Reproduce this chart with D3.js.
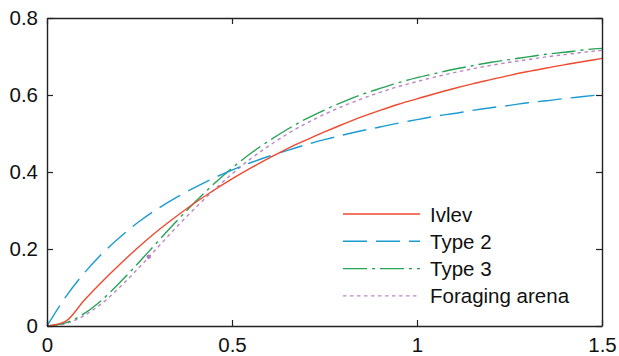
<!DOCTYPE html>
<html>
<head>
<meta charset="utf-8">
<script src="https://cdn.jsdelivr.net/npm/d3@7"></script>
<style>
  body { margin: 0; background: #fff; }
  text { font-family: "Liberation Sans", Arial, sans-serif; }
</style>
</head>
<body>
<div id="chart"></div>
<script>
// prey density (x) sampled every 0.05
const xValues = [0, 0.05, 0.1, 0.15, 0.2, 0.25, 0.3, 0.35, 0.4, 0.45, 0.5, 0.55, 0.6, 0.65, 0.7, 0.75,
  0.8, 0.85, 0.9, 0.95, 1.0, 1.05, 1.1, 1.15, 1.2, 1.25, 1.3, 1.35, 1.4, 1.45, 1.5];

const ivlev = [0, 0.012, 0.066, 0.116, 0.163, 0.207, 0.248, 0.285, 0.320, 0.352, 0.382, 0.410, 0.436, 0.461,
  0.483, 0.504, 0.524, 0.543, 0.560, 0.576, 0.590, 0.604, 0.617, 0.629, 0.640, 0.651, 0.661, 0.670, 0.679, 0.687, 0.695];
const type2 = [0, 0.075, 0.137, 0.189, 0.233, 0.272, 0.305, 0.334, 0.360, 0.384, 0.405, 0.424, 0.441, 0.456,
  0.471, 0.484, 0.496, 0.507, 0.517, 0.527, 0.536, 0.545, 0.552, 0.560, 0.567, 0.573, 0.580, 0.585, 0.591, 0.596, 0.601];
const type3 = [0, 0.008, 0.032, 0.069, 0.116, 0.167, 0.220, 0.272, 0.322, 0.368, 0.410, 0.448, 0.481, 0.511,
  0.538, 0.561, 0.582, 0.601, 0.617, 0.632, 0.645, 0.656, 0.667, 0.676, 0.685, 0.692, 0.699, 0.706, 0.711, 0.717, 0.721];
const arena = [0, 0.006, 0.027, 0.060, 0.104, 0.153, 0.205, 0.257, 0.306, 0.352, 0.395, 0.434, 0.468, 0.499,
  0.526, 0.550, 0.571, 0.590, 0.607, 0.622, 0.635, 0.647, 0.658, 0.668, 0.677, 0.685, 0.692, 0.699, 0.705, 0.711, 0.716];
// stray marker on the foraging arena curve
const arenaDot = [[0.275, 0.18]];

const seriesNames = ["Ivlev", "Type 2", "Type 3", "Foraging arena"];
const xTicks = [0, 0.5, 1, 1.5];
const yTicks = [0, 0.2, 0.4, 0.6, 0.8];

const width = 619, height = 356;
const margin = {top: 18, right: 17, bottom: 30, left: 47};
const contentWidth = width - margin.left - margin.right;
const contentHeight = height - margin.top - margin.bottom;

const svg = d3.select("#chart").append("svg")
  .attr("width", width)
  .attr("height", height);

const x = d3.scaleLinear().domain([0, 1.5]).range([0, contentWidth]);
const y = d3.scaleLinear().domain([0, 0.8]).range([contentHeight, 0]);

const g = svg.append("g")
  .attr("transform", "translate(" + margin.left + "," + margin.top + ")");

const styles = [
  {color: "#ee4a2f", dash: null},
  {color: "#1b9bd1", dash: "24,9"},
  {color: "#25a455", dash: "24,5,3,5"},
  {color: "#bb86c6", dash: "3.5,3.5"}
];
const allSeries = [ivlev, type2, type3, arena];

const line = d3.line()
  .x((d, i) => x(xValues[i]))
  .y(d => y(d))
  .curve(d3.curveMonotoneX);

// curves (draw arena first so green sits on top)
[3, 2, 1, 0].forEach(k => {
  g.append("path")
    .datum(allSeries[k])
    .attr("fill", "none")
    .attr("stroke", styles[k].color)
    .attr("stroke-width", 1.4)
    .attr("stroke-dasharray", styles[k].dash)
    .attr("d", line);
});

g.selectAll(".dot")
  .data(arenaDot)
  .enter().append("circle")
    .attr("cx", d => x(d[0]))
    .attr("cy", d => y(d[1]))
    .attr("r", 2.2)
    .attr("fill", "#b479c2");

// box with inward ticks on all four sides
const axisColor = "#222";
const fontSize = 20.5;
const tickLen = 6;

const xb = g.append("g")
  .attr("transform", "translate(0," + contentHeight + ")")
  .call(d3.axisBottom(x).tickValues(xTicks).tickSizeInner(-tickLen).tickSizeOuter(0).tickPadding(11)
    .tickFormat(d3.format("")));
const yl = g.append("g")
  .call(d3.axisLeft(y).tickValues(yTicks).tickSizeInner(-tickLen).tickSizeOuter(0).tickPadding(9)
    .tickFormat(d3.format("")));
const xt = g.append("g")
  .call(d3.axisTop(x).tickValues(xTicks).tickSizeInner(-tickLen).tickSizeOuter(0).tickFormat(""));
const yr = g.append("g")
  .attr("transform", "translate(" + contentWidth + ",0)")
  .call(d3.axisRight(y).tickValues(yTicks).tickSizeInner(-tickLen).tickSizeOuter(0).tickFormat(""));

[xb, yl, xt, yr].forEach(a => {
  a.select(".domain").attr("stroke", axisColor).attr("stroke-width", 1.4);
  a.selectAll(".tick line").attr("stroke", axisColor).attr("stroke-width", 1.2);
  a.selectAll(".tick text")
    .attr("fill", "#111")
    .style("font-size", fontSize + "px")
    .style("font-family", "'Liberation Sans', Arial, sans-serif");
});

// legend
const legend = svg.append("g").attr("transform", "translate(343,214)");
seriesNames.forEach((name, i) => {
  const row = legend.append("g").attr("transform", "translate(0," + (i * 27.3) + ")");
  row.append("line")
    .attr("x1", 0).attr("x2", 77)
    .attr("y1", 0).attr("y2", 0)
    .attr("stroke", styles[i].color)
    .attr("stroke-width", 1.4)
    .attr("stroke-dasharray", styles[i].dash);
  row.append("text")
    .attr("x", 87)
    .attr("y", 7.5)
    .text(name)
    .style("font-size", fontSize + "px")
    .style("fill", "#111");
});
</script>
</body>
</html>
